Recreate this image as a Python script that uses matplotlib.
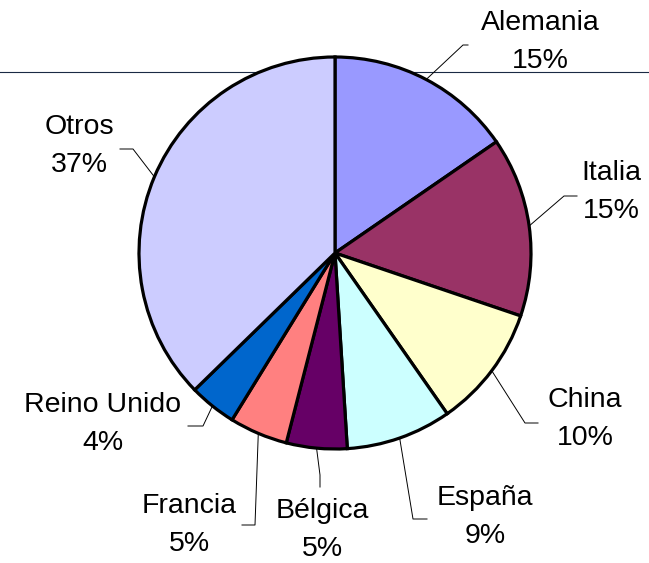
import numpy as np
import matplotlib
matplotlib.use("Agg")
import matplotlib.pyplot as plt

plt.rcParams['font.family'] = ['Liberation Sans', 'DejaVu Sans']

# Pie data (clockwise from the top)
paises = ['Alemania', 'Italia', 'China', 'España', 'Bélgica', 'Francia', 'Reino Unido', 'Otros']
valores = [15.4, 14.8, 10.1, 8.7, 5.0, 4.8, 3.9, 37.3]
colores = ['#9999FF', '#993366', '#FFFFCC', '#CCFFFF', '#660066', '#FF8080', '#0066CC', '#CCCCFF']

W, H = 649, 563
fig = plt.figure(figsize=(W / 100, H / 100), dpi=100)
ax = fig.add_axes([0, 0, 1, 1])

# plot area border line behind the pie
ax.axhline(H - 72, color='#1a2a44', lw=0.8, zorder=0)

cx, cy, r = 335, H - 253, 196
wedges, _ = ax.pie(valores, colors=colores, startangle=90, counterclock=False,
                   center=(cx, cy), radius=r, frame=True,
                   wedgeprops=dict(edgecolor='black', linewidth=2.3))
ax.set_xlim(0, W)
ax.set_ylim(0, H)
ax.set_aspect('equal')
ax.axis('off')

# label layout (pixel coords from the top): text centre, leader elbow, leader end
texto_pos = [(540, 42), (611, 192), (585, 419), (485, 517), (322, 530), (189, 525), (103, 424), (79, 146)]
codo = [(463, 45), (564, 196), (525, 423), (413, 519), (320, 475), (255, 525), (203, 426), (133, 149)]
fin = [(468, 45), (577, 196), (538, 423), (427, 519), (320, 487), (242, 525), (188, 426), (120, 149)]

for w, nombre, v, tp, c, f in zip(wedges, paises, valores, texto_pos, codo, fin):
    ang = np.deg2rad((w.theta1 + w.theta2) / 2)
    ex, ey = cx + r * np.cos(ang), cy + r * np.sin(ang)
    ax.plot([ex, c[0], f[0]], [ey, H - c[1], H - f[1]], color='black', lw=0.7, zorder=3)
    ax.text(tp[0], H - tp[1], f"{nombre}\n{round(v):d}%", ha='center', va='center',
            fontsize=20.5, linespacing=1.6, color='black')

fig.savefig('out.png', dpi=100)
